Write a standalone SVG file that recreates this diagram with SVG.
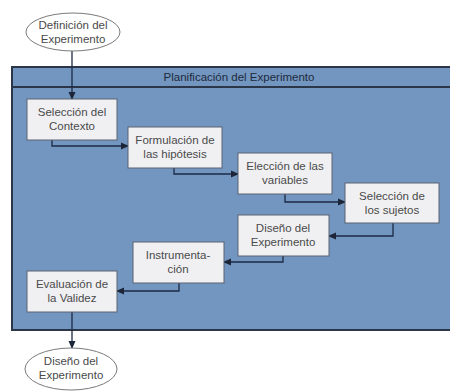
<svg xmlns="http://www.w3.org/2000/svg" width="450" height="392" viewBox="0 0 450 392">
<defs>
<marker id="ah" markerWidth="8" markerHeight="8" refX="7" refY="4" orient="auto" markerUnits="userSpaceOnUse">
<path d="M0,0.5 L8,4 L0,7.5 Z" fill="#1c2638"/>
</marker>
<style>
.box{fill:#f0f0f3;stroke:#5a6270;stroke-width:1}
.ell{fill:#ffffff;stroke:#7a7a7a;stroke-width:1}
.t{font-family:"Liberation Sans",Arial,sans-serif;font-size:11.5px;fill:#4a4a4a;text-anchor:middle}
.c{fill:none;stroke:#1c2a44;stroke-width:1.3}
</style>
</defs>
<rect x="0" y="0" width="450" height="392" fill="#ffffff"/>
<g id="frame">
<rect x="12" y="67" width="446" height="263" fill="#7296c0" stroke="#2b3648" stroke-width="2"/>
<line x1="12" y1="87" x2="450" y2="87" stroke="#2b3648" stroke-width="2"/>
<text x="239" y="81" style="font-family:'Liberation Sans',Arial,sans-serif;font-size:11.5px;fill:#1e2a3c;text-anchor:middle">Planificación del Experimento</text>
</g>
<g id="connectors">
<line class="c" x1="72" y1="51" x2="72" y2="99" marker-end="url(#ah)"/>
<polyline class="c" points="52,140 52,146 128,146" marker-end="url(#ah)"/>
<polyline class="c" points="174,168 174,174 238,174" marker-end="url(#ah)"/>
<polyline class="c" points="285,194 285,202 345,202" marker-end="url(#ah)"/>
<polyline class="c" points="393,223 393,236 329,236" marker-end="url(#ah)"/>
<polyline class="c" points="283,256 283,262 224,262" marker-end="url(#ah)"/>
<polyline class="c" points="179,283 179,291 117,291" marker-end="url(#ah)"/>
<line class="c" x1="72" y1="312" x2="72" y2="348" marker-end="url(#ah)"/>
</g>
<g id="n-def">
<ellipse class="ell" cx="73" cy="32" rx="47" ry="19"/>
<text class="t" x="73" y="29">Definición del</text>
<text class="t" x="73" y="43">Experimento</text>
</g>
<g id="n-contexto">
<rect class="box" x="27" y="99" width="90" height="41"/>
<text class="t" x="72" y="116">Selección del</text>
<text class="t" x="72" y="130">Contexto</text>
</g>
<g id="n-hipotesis">
<rect class="box" x="128" y="127" width="94" height="41"/>
<text class="t" x="175" y="144">Formulación de</text>
<text class="t" x="175" y="158">las hipótesis</text>
</g>
<g id="n-variables">
<rect class="box" x="238" y="153" width="94" height="41"/>
<text class="t" x="285" y="170">Elección de las</text>
<text class="t" x="285" y="184">variables</text>
</g>
<g id="n-sujetos">
<rect class="box" x="345" y="183" width="94" height="40"/>
<text class="t" x="392" y="200">Selección de</text>
<text class="t" x="392" y="214">los sujetos</text>
</g>
<g id="n-diseno">
<rect class="box" x="238" y="215" width="91" height="41"/>
<text class="t" x="283" y="232">Diseño del</text>
<text class="t" x="283" y="246">Experimento</text>
</g>
<g id="n-instr">
<rect class="box" x="133" y="242" width="91" height="41"/>
<text class="t" x="178" y="259">Instrumenta-</text>
<text class="t" x="178" y="273">ción</text>
</g>
<g id="n-validez">
<rect class="box" x="27" y="271" width="90" height="41"/>
<text class="t" x="72" y="288">Evaluación de</text>
<text class="t" x="72" y="302">la Validez</text>
</g>
<g id="n-disenoexp">
<ellipse class="ell" cx="71" cy="369" rx="46" ry="21"/>
<text class="t" x="71" y="365">Diseño del</text>
<text class="t" x="71" y="379">Experimento</text>
</g>
</svg>
